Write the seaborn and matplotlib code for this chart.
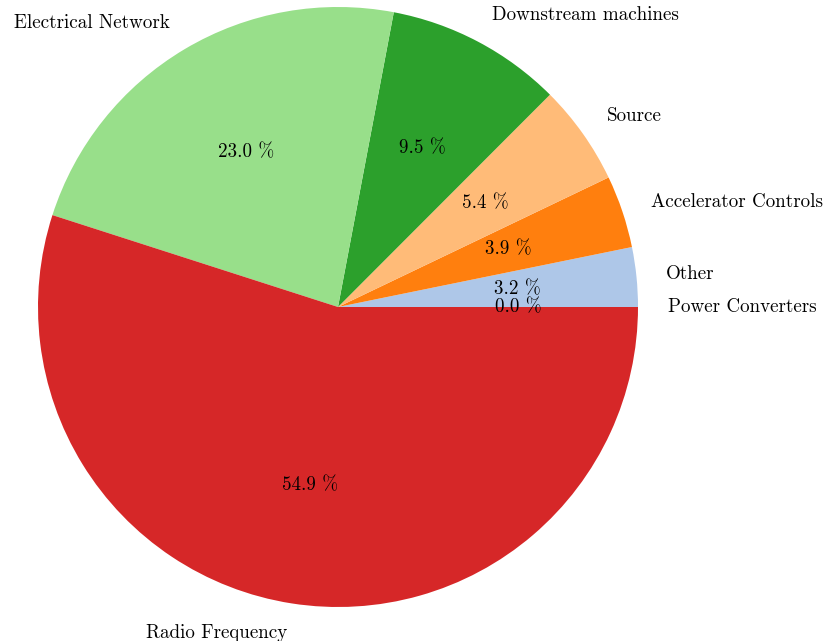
import matplotlib
matplotlib.use("Agg")
import matplotlib.pyplot as plt
import seaborn as sns

categories = ["Power Converters", "Other", "Accelerator Controls", "Source",
              "Downstream machines", "Electrical Network", "Radio Frequency"]
shares = [0.0, 3.2, 3.9, 5.4, 9.5, 23.0, 54.9]

sns.set_style("white")
plt.rcParams["font.family"] = ["cmr10", "DejaVu Serif"]
plt.rcParams["axes.formatter.use_mathtext"] = True
plt.rcParams["text.color"] = "black"

colors = sns.color_palette("tab20", len(categories))
total = sum(shares)

fig = plt.figure(figsize=(8.23, 6.41), dpi=100)
ax = fig.add_axes([38 / 823, 34 / 641, 600 / 823, 600 / 641])
wedges, texts, autotexts = ax.pie(
    shares, labels=categories, colors=colors,
    autopct=lambda p: f"{p * total / 100:.1f} %",
    startangle=0, counterclock=True,
    wedgeprops={"linewidth": 0},
    textprops={"fontsize": 13.7, "color": "black"},
)
ax.set_xlim(-1, 1)
ax.set_ylim(-1, 1)
ax.set_aspect("equal")
for t in texts + autotexts:
    t.set_clip_on(False)
ax.axis("off")
fig.savefig("out.png", dpi=100)
